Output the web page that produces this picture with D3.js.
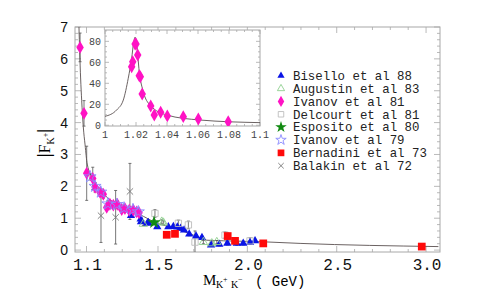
<!DOCTYPE html>
<html>
<head>
<meta charset="utf-8">
<script src="https://cdn.jsdelivr.net/npm/d3@7"></script>
<style>
  body { margin: 0; background: #fff; }
  svg { display: block; }
</style>
</head>
<body>
<div id="chart"></div>
<script>
'use strict';

// ---- data: [mass GeV, |F|, error] ----
const bisello = [
  [1.349,1.08,0.05],[1.403,0.97,0.05],[1.405,0.89,0.05],[1.440,0.84,0.05],[1.446,0.86,0.05],
  [1.496,0.73,0.05],[1.558,0.73,0.05],[1.586,0.74,0.05],[1.608,0.72,0.05],[1.627,0.68,0.05],
  [1.646,0.63,0.05],[1.675,0.50,0.05],[1.713,0.44,0.05],[1.746,0.39,0.05],[1.797,0.16,0.04],
  [1.843,0.18,0.05],[1.888,0.21,0.05],[1.941,0.21,0.06],[1.977,0.21,0.05],[2.015,0.24,0.05],
  [2.043,0.29,0.05]
];
const augustin = [[1.418,0.82,0.05],[1.521,0.89,0.06],[1.530,0.86,0.06],[1.754,0.25,0.05],[1.801,0.21,0.05],[1.829,0.25,0.05]];
const ivanov81 = [
  [1.064,6.36,0.45],[1.086,4.29,0.4],[1.101,2.41,0.85],[1.135,2.25,0.35],[1.148,1.97,0.15],
  [1.176,1.81,0.12],[1.194,1.75,0.12],[1.213,1.34,0.1],[1.231,1.44,0.1],[1.250,1.41,0.1],
  [1.272,1.44,0.1],[1.297,1.27,0.1],[1.315,1.30,0.1],[1.339,1.25,0.1],[1.362,1.25,0.1],
  [1.381,1.20,0.1],[1.394,1.17,0.1]
];
const delcourt = [[1.483,1.15,0.12],[1.614,0.84,0.1],[1.670,0.79,0.12],[1.707,0.25,0.35],[1.875,0.47,0.1],[2.015,0.29,0.1]];
const esposito = [[1.478,0.87,0.08]];
const ivanov79 = [[1.120,2.30,0.1],[1.148,2.00,0.1],[1.180,1.82,0.1],[1.220,1.45,0.1],[1.270,1.43,0.1],[1.310,1.32,0.1],[1.360,1.27,0.1],[1.390,1.20,0.1]];
const bernardini = [[1.549,0.48,0.05],[1.595,0.51,0.05],[1.890,0.44,0.1],[1.931,0.29,0.1],[2.089,0.21,0.04],[2.976,0.11,0.07]];
const balakin = [[1.181,1.08,0.84],[1.263,1.03,0.84],[1.343,1.84,0.88]];

// fitted curve (main panel), read point by point
const fitMain = [
  [1.0575,7.06],[1.062,6.2],[1.067,5.4],[1.073,4.7],[1.082,3.87],[1.092,3.3],[1.104,2.7],
  [1.138,2.22],[1.176,1.89],[1.231,1.58],[1.343,1.27],[1.418,1.06],[1.496,0.84],[1.586,0.70],
  [1.698,0.47],[1.773,0.31],[1.959,0.28],[2.089,0.26],[2.295,0.21],[3.069,0.11]
];

// inset (phi region)
const insetPts = [
  [1.0172,55.8],[1.0179,60.6],[1.0194,77.4],[1.0200,77.4],[1.0211,67],[1.0221,47.2],[1.0228,46.3],
  [1.0240,29.8],[1.0295,18.4],[1.0318,9.8],[1.0359,12.4],[1.0402,8.9],[1.0505,8.2],[1.0602,6],[1.0795,3.4]
];
const fitInset = [
  [1.000,8.5],[1.0075,14.6],[1.0118,24],[1.015,44.8],[1.0172,63.8],[1.0185,79],[1.0194,84],
  [1.0204,78],[1.0221,51],[1.0247,32],[1.029,19.3],[1.0398,9.8],[1.0613,5],[1.1,2.5]
];

const xTickVals = [1.1, 1.5, 2.0, 2.5, 3.0];
const xTickLabels = ["1.1", "1.5", "2.0", "2.5", "3.0"];
const yTickVals = [0, 1, 2, 3, 4, 5, 6, 7];
const insetXTicks = [1, 1.02, 1.04, 1.06, 1.08, 1.1];
const insetXLabels = ["1", "1.02", "1.04", "1.06", "1.08", "1.1"];
const insetYTicks = [0, 20, 40, 60, 80];

const legendNames = ["Bisello et al 88","Augustin et al 83","Ivanov et al 81","Delcourt et al 81",
                     "Esposito et al 80","Ivanov et al 79","Bernadini et al 73","Balakin et al 72"];

// ---- style per series ----
const styles = [
  {data: bisello,    type: d3.symbolTriangle, size: 30, fill: "#0a14e6", stroke: "none"},
  {data: augustin,   type: d3.symbolTriangle, size: 30, fill: "none", stroke: "#8fcf8f"},
  {data: ivanov81,   type: d3.symbolDiamond,  size: 48, fill: "#ff12c4", stroke: "none"},
  {data: delcourt,   type: d3.symbolSquare,   size: 40, fill: "none", stroke: "#bdbdbd"},
  {data: esposito,   type: d3.symbolStar,     size: 55, fill: "#118a11", stroke: "none"},
  {data: ivanov79,   type: d3.symbolStar,     size: 45, fill: "none", stroke: "#8a8aff"},
  {data: bernardini, type: d3.symbolSquare,   size: 60, fill: "#ff0a0a", stroke: "none"},
  {data: balakin,    type: d3.symbolTimes,    size: 28, fill: "none", stroke: "#777"}
];

const W = 478, H = 296;
const svg = d3.select("#chart").append("svg").attr("width", W).attr("height", H);

const frame = {left: 75, right: 440, top: 27, bottom: 252};
const x = d3.scaleLinear().domain([1.0356, 3.078]).range([frame.left, frame.right]);
const y = d3.scaleLinear().domain([-0.06, 7]).range([frame.bottom, frame.top]);

const frameColor = "#a8a8a8";

// clip
svg.append("clipPath").attr("id", "clipMain")
  .append("rect").attr("x", frame.left).attr("y", frame.top)
  .attr("width", frame.right - frame.left).attr("height", frame.bottom - frame.top);

// ticks on all four sides (pointing inward)
function frameTicks(g, xs, ys, fr, xMaj, xMin, yMaj, yMin, lenMaj, lenMin) {
  const tk = g.append("g").attr("stroke", frameColor).attr("stroke-width", 0.8);
  xMin.forEach(v => {
    const L = xMaj.some(m => Math.abs(m - v) < 1e-6) ? lenMaj : lenMin;
    tk.append("line").attr("x1", xs(v)).attr("x2", xs(v)).attr("y1", fr.bottom).attr("y2", fr.bottom - L);
    tk.append("line").attr("x1", xs(v)).attr("x2", xs(v)).attr("y1", fr.top).attr("y2", fr.top + L);
  });
  yMin.forEach(v => {
    const L = yMaj.some(m => Math.abs(m - v) < 1e-6) ? lenMaj : lenMin;
    tk.append("line").attr("y1", ys(v)).attr("y2", ys(v)).attr("x1", fr.left).attr("x2", fr.left + L);
    tk.append("line").attr("y1", ys(v)).attr("y2", ys(v)).attr("x1", fr.right).attr("x2", fr.right - L);
  });
  g.append("rect").attr("x", fr.left).attr("y", fr.top)
    .attr("width", fr.right - fr.left).attr("height", fr.bottom - fr.top)
    .attr("fill", "none").attr("stroke", frameColor).attr("stroke-width", 1);
}

const main = svg.append("g");
frameTicks(main, x, y, frame, xTickVals, d3.range(11, 31).map(d => d / 10),
           yTickVals, d3.range(0, 36).map(d => d / 5), 6, 3);

// x tick labels
main.selectAll(".xl").data(xTickVals).enter().append("text")
  .attr("x", d => x(d) + 1).attr("y", 270)
  .attr("text-anchor", "middle")
  .style("font-family", "'Liberation Mono', 'DejaVu Sans Mono', monospace")
  .style("font-size", "16px").attr("fill", "#111")
  .text((d, i) => xTickLabels[i]);

// y tick labels
main.selectAll(".yl").data(yTickVals).enter().append("text")
  .attr("x", 68).attr("y", d => y(d) + 5)
  .attr("text-anchor", "end")
  .style("font-family", "'Liberation Sans', Arial, sans-serif")
  .style("font-size", "14px").attr("fill", "#111")
  .text(d => d);

// axis titles
const serif = "'Liberation Serif', 'Times New Roman', serif";
const xl = svg.append("g");
xl.append("text").attr("x", 203).attr("y", 285).style("font-family", serif).style("font-size", "15px").text("M");
xl.append("text").attr("x", 216).attr("y", 288).style("font-family", serif).style("font-size", "10px").text("K");
xl.append("text").attr("x", 223).attr("y", 282).style("font-family", serif).style("font-size", "8px").text("+");
xl.append("text").attr("x", 231).attr("y", 288).style("font-family", serif).style("font-size", "10px").text("K");
xl.append("text").attr("x", 238).attr("y", 282).style("font-family", serif).style("font-size", "8px").text("\u2212");
xl.append("text").attr("x", 255).attr("y", 286)
  .style("font-family", "'Liberation Mono', monospace").style("font-size", "14px").text("( GeV)");

const yl = svg.append("g").attr("transform", "translate(50,143) rotate(-90)");
const ylt = yl.append("text").attr("text-anchor", "middle").style("font-family", serif).style("font-size", "16px");
ylt.append("tspan").style("font-size", "18px").style("font-weight", "bold").text("|");
ylt.append("tspan").text("F");
ylt.append("tspan").attr("dy", 4).style("font-size", "10px").text("K");
ylt.append("tspan").attr("dy", -6).style("font-size", "8px").text("+");
ylt.append("tspan").attr("dy", 2).style("font-size", "18px").style("font-weight", "bold").text("|");

// plot contents
const plot = svg.append("g").attr("clip-path", "url(#clipMain)");

// error bars
const errG = plot.append("g").attr("stroke", "#555").attr("stroke-width", 0.8);
styles.forEach(s => {
  s.data.forEach(d => {
    const px = x(d[0]);
    errG.append("line").attr("x1", px).attr("x2", px).attr("y1", y(d[1] - d[2])).attr("y2", y(d[1] + d[2]));
    [d[1] - d[2], d[1] + d[2]].forEach(v => {
      errG.append("line").attr("x1", px - 1.5).attr("x2", px + 1.5).attr("y1", y(v)).attr("y2", y(v));
    });
  });
});

// fitted curve
plot.append("path").datum(fitMain)
  .attr("d", d3.line().x(d => x(d[0])).y(d => y(d[1])).curve(d3.curveMonotoneX))
  .attr("fill", "none").attr("stroke", "#5a5050").attr("stroke-width", 0.9);

// points
styles.forEach(s => {
  plot.append("g").selectAll("path").data(s.data).enter().append("path")
    .attr("transform", d => "translate(" + x(d[0]) + "," + y(d[1]) + ")")
    .attr("d", d3.symbol().type(s.type).size(s.size))
    .attr("fill", s.fill).attr("stroke", s.stroke === "none" ? null : s.stroke).attr("stroke-width", 0.9);
});

// legend
const leg = svg.append("g");
legendNames.forEach((name, i) => {
  const s = styles[i];
  const ly = 75.7 + i * 12.86;
  leg.append("path").attr("transform", "translate(281," + ly + ")")
    .attr("d", d3.symbol().type(s.type).size(s.size * 0.75))
    .attr("fill", s.fill).attr("stroke", s.stroke === "none" ? null : s.stroke).attr("stroke-width", 0.9);
  leg.append("text").attr("x", 293).attr("y", ly + 4.3)
    .style("font-family", "'Liberation Mono', 'DejaVu Sans Mono', monospace")
    .style("font-size", "12.4px").attr("fill", "#222").text(name);
});

// ---- inset ----
const fi = {left: 105, right: 260, top: 30, bottom: 126};
const xi = d3.scaleLinear().domain([1, 1.1]).range([fi.left, fi.right]);
const yi = d3.scaleLinear().domain([-0.7, 90.8]).range([fi.bottom, fi.top]);

const inset = svg.append("g");
inset.append("rect").attr("x", fi.left).attr("y", fi.top)
  .attr("width", fi.right - fi.left).attr("height", fi.bottom - fi.top).attr("fill", "#fff");
frameTicks(inset, xi, yi, fi, insetXTicks, d3.range(0, 21).map(d => 1 + d * 0.005),
           insetYTicks, d3.range(0, 19).map(d => d * 5), 4, 2);

inset.selectAll(".ixl").data(insetXTicks).enter().append("text")
  .attr("x", d => xi(d)).attr("y", 138).attr("text-anchor", "middle")
  .style("font-family", "'Liberation Mono', monospace").style("font-size", "10px").attr("fill", "#444")
  .text((d, i) => insetXLabels[i]);
inset.selectAll(".iyl").data(insetYTicks).enter().append("text")
  .attr("x", 101).attr("y", d => yi(d) + 3.5).attr("text-anchor", "end")
  .style("font-family", "'Liberation Mono', monospace").style("font-size", "10px").attr("fill", "#444")
  .text(d => d);

svg.append("clipPath").attr("id", "clipInset")
  .append("rect").attr("x", fi.left).attr("y", fi.top)
  .attr("width", fi.right - fi.left).attr("height", fi.bottom - fi.top);
const ip = inset.append("g").attr("clip-path", "url(#clipInset)");
ip.append("path").datum(fitInset)
  .attr("d", d3.line().x(d => xi(d[0])).y(d => yi(d[1])).curve(d3.curveMonotoneX))
  .attr("fill", "none").attr("stroke", "#5a5050").attr("stroke-width", 0.9);
ip.append("g").selectAll("path").data(insetPts).enter().append("path")
  .attr("transform", d => "translate(" + xi(d[0]) + "," + yi(d[1]) + ")")
  .attr("d", d3.symbol().type(d3.symbolDiamond).size(48))
  .attr("fill", "#ff12c4");
</script>
</body>
</html>
